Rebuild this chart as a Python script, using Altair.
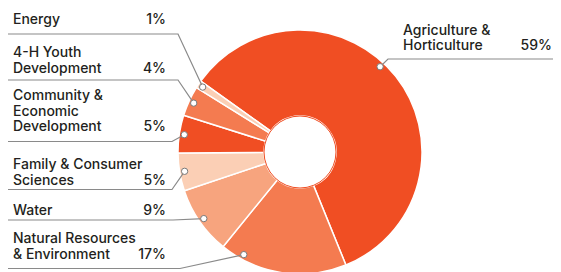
import altair as alt
import numpy as np
import pandas as pd

# ---------------- data ----------------
categories = [
    "Agriculture & Horticulture",
    "Natural Resources & Environment",
    "Water",
    "Family & Consumer Sciences",
    "Community & Economic Development",
    "4-H Youth Development",
    "Energy",
]
shares = [59, 17, 9, 5, 5, 4, 1]
share_labels = ["59%", "17%", "9%", "5%", "5%", "4%", "1%"]
label_lines = [
    ["Agriculture &", "Horticulture"],
    ["Natural Resources", "& Environment"],
    ["Water"],
    ["Family & Consumer", "Sciences"],
    ["Community &", "Economic", "Development"],
    ["4-H Youth", "Development"],
    ["Energy"],
]
colors = ["#F04E23", "#F47B50", "#F7A47E", "#FBCFB5", "#F04E23", "#F47B50", "#FBCFB5"]

# ---------------- layout ----------------
W, H = 545, 264          # plot area in px (page has 8px margin)
M = 8
CX, CY = 300 - M, 152 - M
R_OUT, R_IN, R_DOT = 122, 36, 117
START = np.deg2rad(-54.5) + 2 * np.pi
LINE_H = 15.5

side = ["right", "left", "left", "left", "left", "left", "left"]
underline_y = [59, 268.5, 220, 189.5, 141.5, 80, 34]
last_baseline = [50, 258.5, 215, 184.5, 131, 72.5, 23.5]
elbow_x = [388, 180, 173, 172, 172, 178, 178]
anchor_frac = [0.46, 0.83, 0.5, 0.5, 0.5, 0.5, 0.5]
TEXT_X = {"left": 13, "right": 403}
PCT_X = {"left": 166, "right": 552}
END_X = {"left": 5, "right": 561}

# ---------------- derived tables ----------------
df = pd.DataFrame({"category": categories, "share": shares, "order": range(len(categories))})

total = float(sum(shares))
cum = np.cumsum(shares)
start_frac = (cum - np.array(shares)) / total
ang = START + 2 * np.pi * (start_frac + np.array(anchor_frac) * np.array(shares) / total)
dot_x = CX + R_DOT * np.sin(ang)
dot_y = CY - R_DOT * np.cos(ang)
dots = pd.DataFrame({"category": categories, "x": dot_x, "y": dot_y})

line_rows = []
for i, c in enumerate(categories):
    s = side[i]
    pts = [(dot_x[i], dot_y[i]), (elbow_x[i] - M, underline_y[i] - M), (END_X[s] - M, underline_y[i] - M)]
    for k, (x, y) in enumerate(pts):
        line_rows.append({"category": c, "idx": k, "x": x, "y": y})
lines = pd.DataFrame(line_rows)

text_rows, pct_rows = [], []
for i, c in enumerate(categories):
    s = side[i]
    n = len(label_lines[i])
    for j, t in enumerate(label_lines[i]):
        text_rows.append({"text": t, "x": TEXT_X[s] - M, "y": last_baseline[i] - M - LINE_H * (n - 1 - j)})
    pct_rows.append({"text": share_labels[i], "x": PCT_X[s] - M, "y": last_baseline[i] - M})
texts = pd.DataFrame(text_rows)
pcts = pd.DataFrame(pct_rows)

# ---------------- chart ----------------
xs = alt.Scale(domain=[0, W], nice=False, zero=False)
ys = alt.Scale(domain=[0, H], nice=False, zero=False, reverse=True)
X = lambda f: alt.X(f, type="quantitative", scale=xs, axis=None)
Y = lambda f: alt.Y(f, type="quantitative", scale=ys, axis=None)

arcs = alt.Chart(df).mark_arc(
    outerRadius=R_OUT, innerRadius=R_IN, stroke="white", strokeWidth=1.5
).encode(
    theta=alt.Theta("share:Q", stack=True, scale=alt.Scale(range=[START, START + 2 * np.pi])),
    order=alt.Order("order:Q"),
    color=alt.Color("category:N", scale=alt.Scale(domain=categories, range=colors), legend=None),
    x=alt.value(CX),
    y=alt.value(CY),
)

hole = alt.Chart(pd.DataFrame({"a": [0]})).mark_arc(
    theta=0, theta2=2 * np.pi, outerRadius=R_IN, innerRadius=0,
    fill="white", stroke="#F04E23", strokeWidth=1,
).encode(x=alt.value(CX), y=alt.value(CY))

leaders = alt.Chart(lines).mark_line(color="#8a8a8a", strokeWidth=1.2).encode(
    x=X("x"), y=Y("y"), detail="category:N", order="idx:Q"
)

dot_layer = alt.Chart(dots).mark_point(
    shape="circle", filled=True, fill="white", stroke="#7a7a7a", strokeWidth=1, size=40, opacity=1
).encode(x=X("x"), y=Y("y"))

font = dict(font="Inter", fontSize=14, fontWeight=500, color="#231F20", baseline="alphabetic")
label_layer = alt.Chart(texts).mark_text(align="left", **font).encode(x=X("x"), y=Y("y"), text="text:N")
pct_layer = alt.Chart(pcts).mark_text(align="right", **font).encode(x=X("x"), y=Y("y"), text="text:N")

chart = alt.layer(arcs, hole, leaders, dot_layer, label_layer, pct_layer).properties(
    width=W, height=H, padding=0, autosize=alt.AutoSizeParams(type="none"), background="white"
).configure_view(stroke=None)

chart.save("out.html", embed_options={"renderer": "svg", "actions": False})
